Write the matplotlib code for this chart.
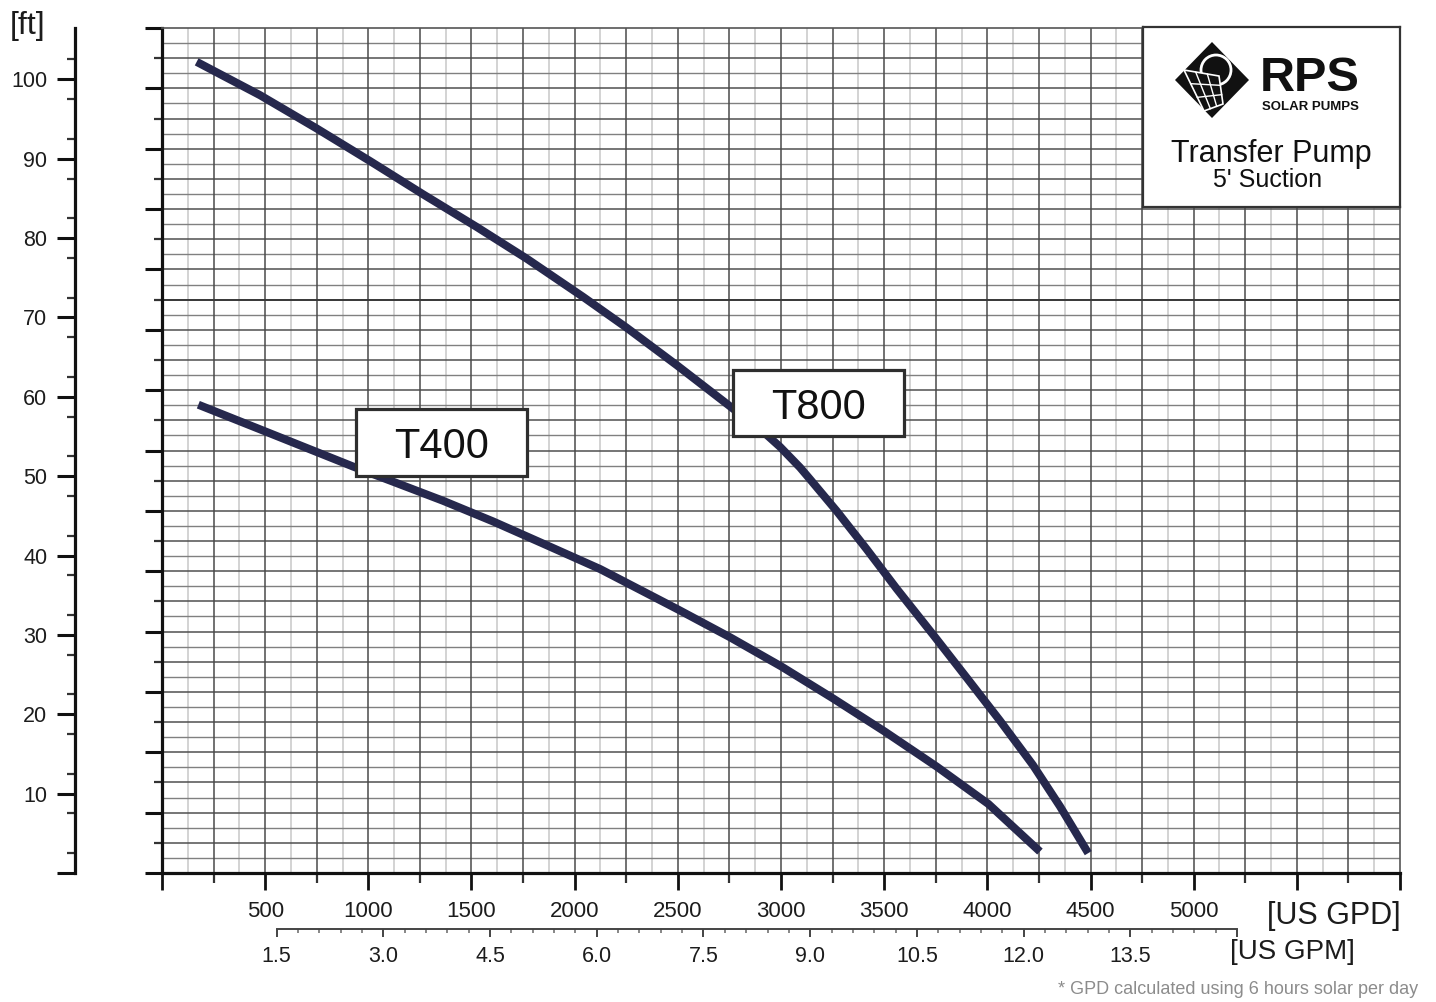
import numpy as np
import matplotlib
matplotlib.use('Agg')
import matplotlib.pyplot as plt
from matplotlib.patches import Rectangle, Polygon, Circle
from matplotlib.ticker import FixedLocator

plt.rcParams['font.family'] = ['Liberation Sans', 'DejaVu Sans']

# ---------------- data ----------------
t800_gpd = [168, 475, 750, 1008, 1266, 1525, 1768, 2040, 2252, 2494, 2753, 2931,
            2995, 3092, 3141, 3270, 3415, 3561, 3738, 3900, 4061, 4221, 4352, 4489]
t800_ft = [102.2, 98.0, 93.8, 89.7, 85.5, 81.4, 77.4, 72.6, 68.7, 64.0, 58.8, 55.2,
           53.7, 51.1, 49.6, 45.6, 40.8, 35.8, 30.0, 24.6, 19.2, 13.6, 8.4, 2.5]
t400_gpd = [176, 475, 927, 1120, 1362, 1604, 1847, 2123, 2501, 2753, 3003, 3252,
            3504, 3755, 4005, 4255]
t400_ft = [59.0, 55.9, 51.2, 49.3, 46.9, 44.3, 41.5, 38.3, 33.2, 29.7, 26.0, 22.0,
           17.8, 13.4, 8.7, 2.7]

gpd_ticks = [0, 500, 1000, 1500, 2000, 2500, 3000, 3500, 4000, 4500, 5000, 5500, 6000]
gpd_labels = ['', '500', '1000', '1500', '2000', '2500', '3000', '3500', '4000',
              '4500', '5000', '', '']
gpm_ticks = [1.5, 3.0, 4.5, 6.0, 7.5, 9.0, 10.5, 12.0, 13.5, 15.0]
gpm_labels = ['1.5', '3.0', '4.5', '6.0', '7.5', '9.0', '10.5', '12.0', '13.5', '']
ft_ticks = [0, 10, 20, 30, 40, 50, 60, 70, 80, 90, 100]
ft_labels = ['', '10', '20', '30', '40', '50', '60', '70', '80', '90', '100']

# ---------------- layout ----------------
W, H = 1436, 1002
fig = plt.figure(figsize=(W / 100, H / 100), dpi=100)
L, R, T, B = 162, 1400, 28, 873
rect = [L / W, 1 - B / H, (R - L) / W, (B - T) / H]
GPD_MAX = 6000
FT_TOP = (B - T) / 7.937
GRID_TOP = 28
TXT = '#1c1c1c'
CURVE = '#26284d'

def fx(px):
    return px / W

def fy(py):
    return 1 - py / H

# grid + inner axis
ax = fig.add_axes(rect, zorder=0)
ax.set_xlim(0, GPD_MAX)
ax.set_ylim(0, GRID_TOP)
for x in np.arange(125, GPD_MAX, 250):
    ax.axvline(x, color='#c8c8c8', lw=1.1, zorder=0)
for x in np.arange(250, GPD_MAX, 250):
    ax.axvline(x, color='#4a4a4a', lw=1.1, zorder=0.5)
for y in np.arange(0.5, GRID_TOP, 1):
    ax.axhline(y, color='#808080', lw=1.0, zorder=0.3)
for y in np.arange(1, GRID_TOP, 1):
    ax.axhline(y, color='#505050', lw=1.1, zorder=0.4)
ax.axhline(19, color='#3a3a3a', lw=1.4, zorder=0.6)

for s in ['top', 'right']:
    ax.spines[s].set_color('#555555')
    ax.spines[s].set_linewidth(1.2)
for s in ['left', 'bottom']:
    ax.spines[s].set_color('#111111')
    ax.spines[s].set_linewidth(2.3)

ax.xaxis.set_major_locator(FixedLocator(gpd_ticks))
ax.set_xticklabels(gpd_labels)
ax.xaxis.set_minor_locator(FixedLocator(np.arange(250, GPD_MAX, 500)))
ax.yaxis.set_major_locator(FixedLocator(np.arange(0, GRID_TOP + 1, 2)))
ax.yaxis.set_minor_locator(FixedLocator(np.arange(1, GRID_TOP, 2)))
ax.set_yticklabels([])
ax.tick_params(axis='x', which='major', direction='out', length=12.5, width=2.0,
               color='#111111', pad=8, labelsize=16, labelcolor=TXT)
ax.tick_params(axis='x', which='minor', direction='out', length=7, width=1.6,
               color='#333333')
ax.tick_params(axis='y', which='major', direction='out', length=12.5, width=2.2,
               color='#111111')
ax.tick_params(axis='y', which='minor', direction='out', length=6, width=1.6,
               color='#333333')

# data axes with ft scale (outer left axis)
axd = fig.add_axes(rect, zorder=2)
axd.patch.set_alpha(0)
axd.set_xlim(0, GPD_MAX)
axd.set_ylim(0, FT_TOP)
for s in ['top', 'right', 'bottom']:
    axd.spines[s].set_visible(False)
axd.spines['left'].set_position(('outward', 87 * 0.72))
axd.spines['left'].set_linewidth(2.3)
axd.spines['left'].set_color('#111111')
axd.set_xticks([])
axd.yaxis.set_major_locator(FixedLocator(ft_ticks))
axd.set_yticklabels(ft_labels)
axd.yaxis.set_minor_locator(FixedLocator(np.arange(2.5, FT_TOP, 5)))
axd.tick_params(axis='y', which='major', direction='out', length=13, width=2.2,
                color='#111111', pad=7, labelsize=15.5, labelcolor=TXT)
axd.tick_params(axis='y', which='minor', direction='out', length=6, width=1.6,
                color='#333333')

axd.plot(t800_gpd, t800_ft, color=CURVE, lw=5.8, solid_capstyle='butt',
         solid_joinstyle='round', zorder=3)
axd.plot(t400_gpd, t400_ft, color=CURVE, lw=5.8, solid_capstyle='butt',
         solid_joinstyle='round', zorder=3)

# curve labels
for name, x0, x1, y0, y1 in [('T800', 2767, 3596, 55.06, 63.37),
                             ('T400', 940, 1769, 50.02, 58.46)]:
    axd.add_patch(Rectangle((x0, y0), x1 - x0, y1 - y0, facecolor='white',
                            edgecolor='#2e2e2e', lw=2.3, zorder=5))
    axd.text((x0 + x1) / 2, (y0 + y1) / 2, name, ha='center', va='center_baseline',
             fontsize=30, color='#111111', zorder=6)

# GPM axis
axg = fig.add_axes([fx(276.7), fy(929), (1237 - 276.7) / W, 0.0001], zorder=1)
axg.patch.set_alpha(0)
for s in ['top', 'right', 'left']:
    axg.spines[s].set_visible(False)
axg.spines['bottom'].set_linewidth(1.4)
axg.spines['bottom'].set_color('#444444')
axg.set_xlim(1.5, 15.0)
axg.set_yticks([])
axg.xaxis.set_major_locator(FixedLocator(gpm_ticks))
axg.set_xticklabels(gpm_labels)
axg.xaxis.set_minor_locator(FixedLocator(np.arange(1.8, 15.0, 0.3)))
axg.tick_params(axis='x', which='major', direction='out', length=6, width=1.4,
                color='#444444', pad=6, labelsize=15.5, labelcolor=TXT)
axg.tick_params(axis='x', which='minor', direction='out', length=3, width=1.1,
                color='#666666')

# unit labels
fig.text(fx(28), fy(26), '[ft]', ha='center', va='center', fontsize=23, color=TXT)
fig.text(fx(1334), fy(916), '[US GPD]', ha='center', va='center', fontsize=22, color=TXT)
fig.text(fx(1292), fy(952), '[US GPM]', ha='center', va='center', fontsize=20, color=TXT)
fig.text(fx(1418), fy(990), '* GPD calculated using 6 hours solar per day',
         ha='right', va='center', fontsize=13, color='#8c8c8c')

# logo box
axl = fig.add_axes([fx(1143), fy(207), (1400 - 1143) / W, 180 / H], zorder=8)
axl.set_xlim(1143, 1400)
axl.set_ylim(207, 27)
axl.set_xticks([])
axl.set_yticks([])
axl.set_facecolor('white')
for s in axl.spines.values():
    s.set_color('#333333')
    s.set_linewidth(1.6)
axl.add_patch(Polygon([(1175, 80), (1212, 42), (1249, 80), (1212, 118)],
                      closed=True, facecolor='#111111', edgecolor='none'))
axl.add_patch(Circle((1216, 70), 15, facecolor='#111111', edgecolor='white', lw=2.0))
panel = [(1184, 70), (1219, 76), (1223, 104), (1204, 111)]
axl.add_patch(Polygon(panel, closed=True, facecolor='#111111', edgecolor='white', lw=1.2))
pa, pb, pc, pd = [np.array(p, float) for p in panel]
for t in (1 / 3, 2 / 3):
    p1 = pa + (pb - pa) * t
    p2 = pd + (pc - pd) * t
    axl.plot([p1[0], p2[0]], [p1[1], p2[1]], color='white', lw=1.0)
    q1 = pa + (pd - pa) * t
    q2 = pb + (pc - pb) * t
    axl.plot([q1[0], q2[0]], [q1[1], q2[1]], color='white', lw=1.0)
axl.text(1310, 91, 'RPS', ha='center', va='baseline', fontsize=35, weight='bold',
         color='#111111')
axl.text(1310, 110, 'SOLAR PUMPS', ha='center', va='baseline', fontsize=9.5,
         weight='bold', color='#111111')
axl.text(1271, 162, 'Transfer Pump', ha='center', va='baseline', fontsize=22,
         color='#111111')
axl.text(1268, 187, "5' Suction", ha='center', va='baseline', fontsize=18,
         color='#111111')

fig.savefig('out.png', dpi=100, facecolor='white')
